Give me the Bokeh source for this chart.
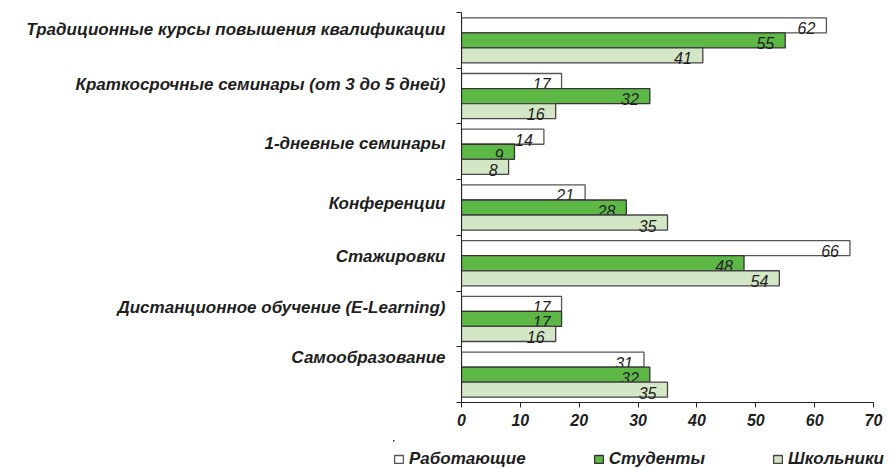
from bokeh.plotting import figure
from bokeh.layouts import column
from bokeh.models import Range1d, FixedTicker, CustomJSTickFormatter, Legend, LegendItem, ColumnDataSource
from bokeh.embed import file_html
from bokeh.resources import INLINE
from bokeh.core.properties import value

categories = [
    "Традиционные курсы повышения квалификации",
    "Краткосрочные семинары (от 3 до 5 дней)",
    "1-дневные семинары",
    "Конференции",
    "Стажировки",
    "Дистанционное обучение (E-Learning)",
    "Самообразование",
]
working = [62, 17, 14, 21, 66, 17, 31]
students = [55, 32, 9, 28, 48, 17, 32]
pupils = [41, 16, 8, 35, 54, 16, 35]
series_names = ["Работающие", "Студенты", "Школьники"]
x_ticks = [0, 10, 20, 30, 40, 50, 60, 70]

# styling
colors = ["#ffffff", "#5eb846", "#d3e7c7"]
outline = ["#555555", "#333333", "#444444"]
bar_h = 0.27
label_nudge = [0.2, 0.21, 0.15, 0.08, 0.12, 0.2, 0.3]  # category label lift, in group units
FONT = "Liberation Sans"
TXT = "#1e1e1e"

n = len(categories)
centers = [n - 0.5 - i for i in range(n)]
shifts = [bar_h, 0.0, -bar_h]

p = figure(width=889, height=440, output_backend="svg", toolbar_location=None,
           x_range=Range1d(0, 70), y_range=Range1d(0, n),
           min_border_left=461, min_border_right=16, min_border_top=12, min_border_bottom=38)
p.outline_line_color = None
p.xgrid.visible = False
p.ygrid.visible = False

sources = []
for s, vals in enumerate([working, students, pupils]):
    src = ColumnDataSource(dict(y=[c + shifts[s] for c in centers], v=vals,
                                t=[str(v) for v in vals]))
    sources.append(src)
    p.hbar(y="y", left=0, right="v", height=bar_h, source=src,
           fill_color=colors[s], line_color=outline[s], line_width=1.3)
    p.text(x="v", y="y", text="t", source=src, x_offset=-11, y_offset=3,
           text_align="right", text_baseline="middle",
           text_font=value(FONT), text_font_style="italic", text_font_size="16px",
           text_color=TXT)

# x axis
xa = p.xaxis[0]
xa.ticker = FixedTicker(ticks=x_ticks)
xa.axis_line_color = "#222222"
xa.major_tick_line_color = "#222222"
xa.major_tick_out = 5
xa.major_tick_in = 0
xa.minor_tick_line_color = None
xa.major_label_text_font = FONT
xa.major_label_text_font_style = "bold italic"
xa.major_label_text_font_size = "16px"
xa.major_label_text_color = TXT
xa.major_label_standoff = 6

# y axis: labels at major ticks (nudged), boundary ticks as minor ticks
label_pos = [centers[i] + label_nudge[i] for i in range(n)]
order = sorted(range(n), key=lambda i: label_pos[i])
ya = p.yaxis[0]
ya.ticker = FixedTicker(ticks=[label_pos[i] for i in order], minor_ticks=list(range(n + 1)))
ya.formatter = CustomJSTickFormatter(args=dict(labels=[categories[i] for i in order]),
                                     code="return labels[index];")
ya.axis_line_color = "#222222"
ya.major_tick_line_color = None
ya.major_tick_out = 0
ya.major_tick_in = 0
ya.minor_tick_line_color = "#222222"
ya.minor_tick_out = 5
ya.minor_tick_in = 0
ya.major_label_standoff = 11
ya.major_label_text_font = FONT
ya.major_label_text_font_style = "bold italic"
ya.major_label_text_font_size = "17px"
ya.major_label_text_color = TXT

# legend strip below the chart (its bars fall outside its ranges; only the legend shows)
lg = figure(width=889, height=29, output_backend="svg", toolbar_location=None,
            x_range=Range1d(100, 101), y_range=Range1d(-2, -1),
            x_axis_location=None, y_axis_location=None,
            min_border_left=393, min_border_right=0, min_border_top=0, min_border_bottom=0)
lg.frame_align = False
lg.outline_line_color = None
lg.xgrid.visible = False
lg.ygrid.visible = False
items = []
for s in range(3):
    r = lg.hbar(y="y", left=0, right="v", height=bar_h, source=sources[s],
                fill_color=colors[s], line_color=outline[s], line_width=1.3)
    items.append(LegendItem(label=series_names[s], renderers=[r]))

legend = Legend(items=items, orientation="horizontal", location="bottom_left")
legend.glyph_width = 11
legend.glyph_height = 10
legend.spacing = 67
legend.padding = 0
legend.margin = 0
legend.label_standoff = 5
legend.border_line_alpha = 0
legend.background_fill_alpha = 0
legend.label_text_font = FONT
legend.label_text_font_style = "bold italic"
legend.label_text_font_size = "17px"
legend.label_text_color = TXT
lg.add_layout(legend, "center")

layout = column(p, lg, spacing=0)
open("out.html", "w").write(file_html(layout, INLINE))
